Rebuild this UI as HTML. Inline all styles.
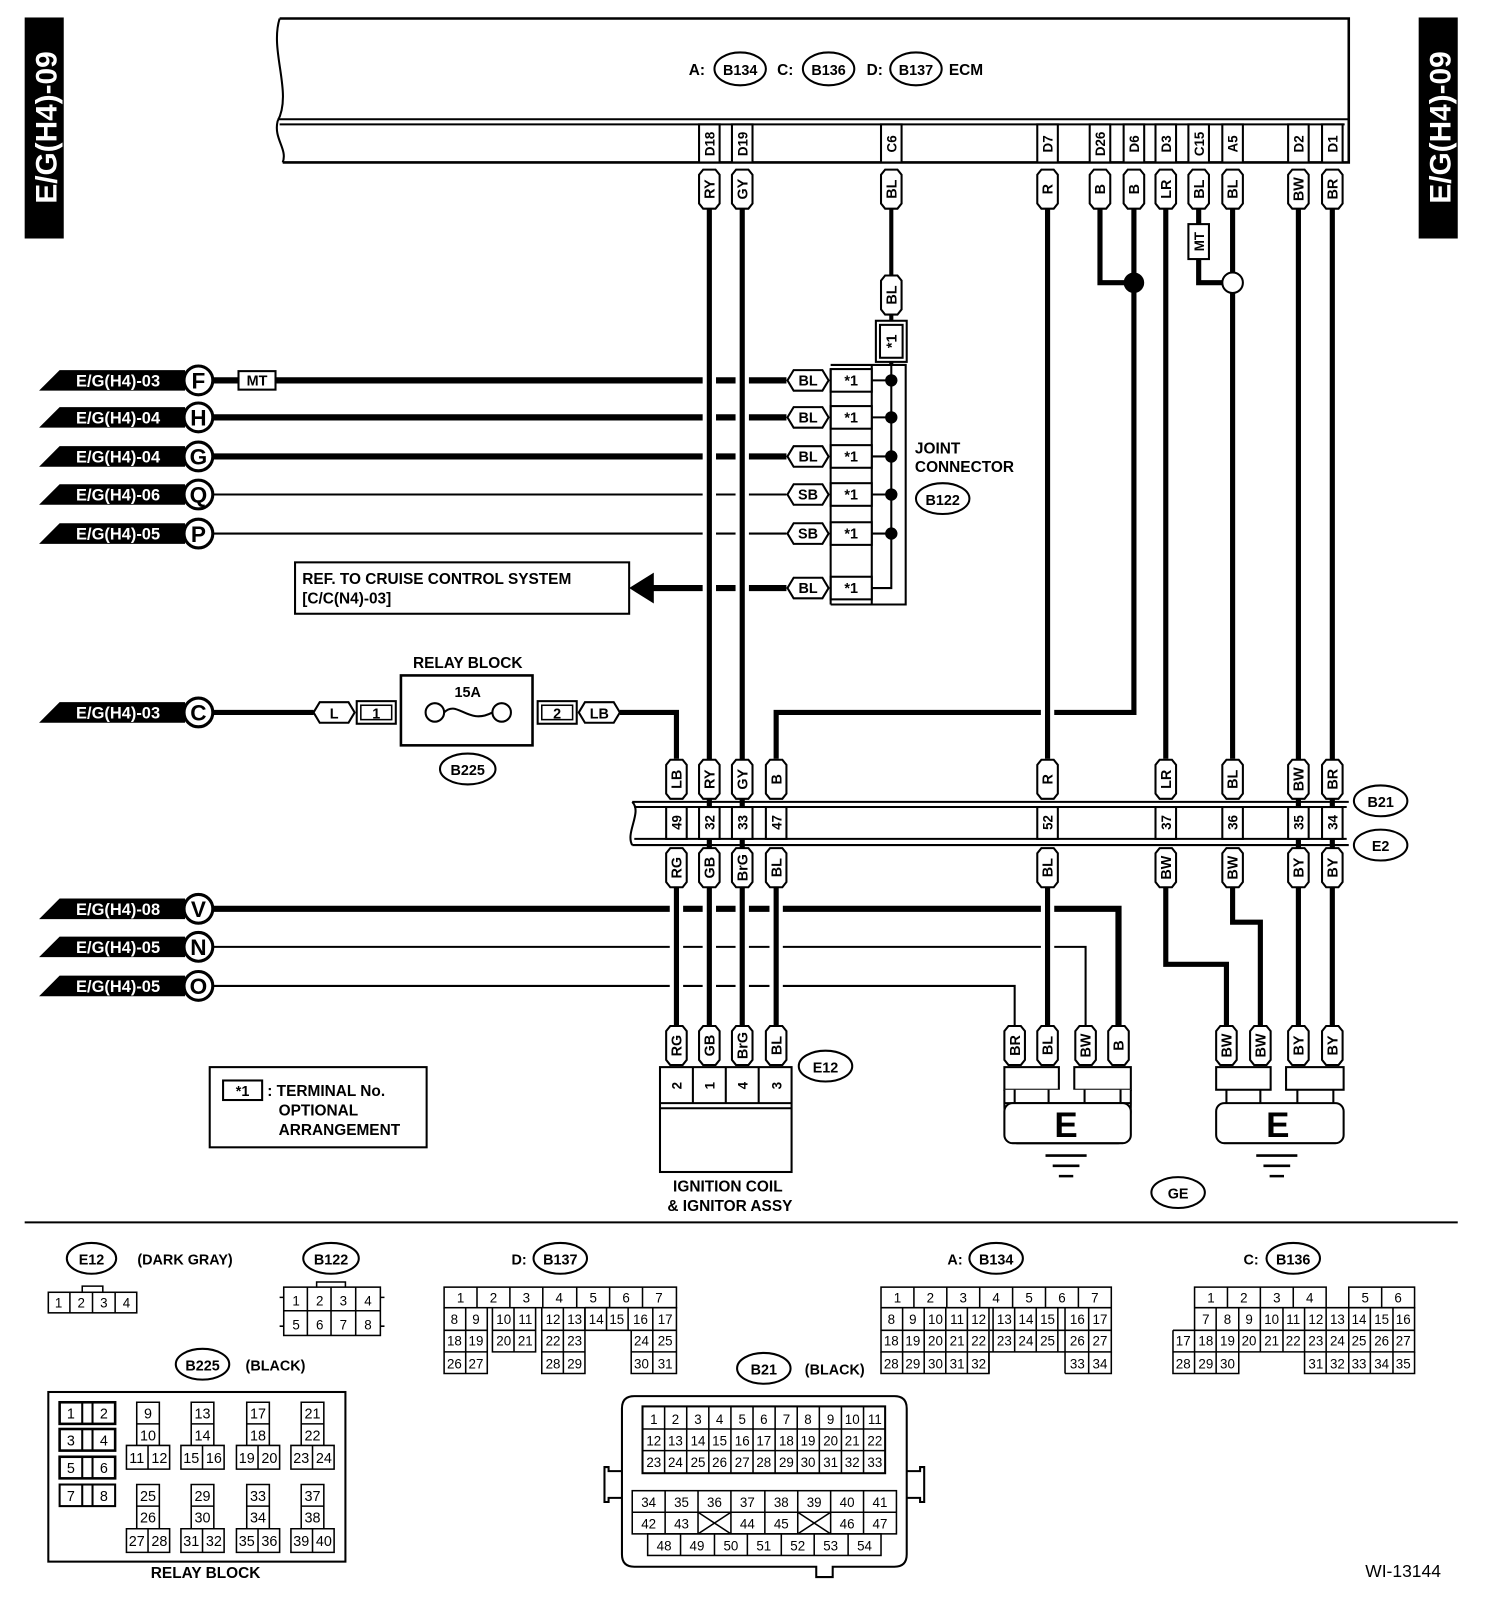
<!DOCTYPE html>
<html><head><meta charset="utf-8"><style>
html,body{margin:0;padding:0;background:#fff}
svg{display:block}
text{font-family:"Liberation Sans",Arial,sans-serif;font-weight:bold;fill:#000}
.n{font-weight:normal}
</style></head><body>
<svg width="1504" height="1612" viewBox="0 0 1463 1568" preserveAspectRatio="none" xmlns="http://www.w3.org/2000/svg">
<defs>
<path id="vp" d="M-10,-14L-6,-19H6L10,-14V14L6,19H-6L-10,14Z" fill="#fff" stroke="#000" stroke-width="2"/>
<path id="hp" d="M-20,0L-14,-10H14L20,0L14,10H-14Z" fill="#fff" stroke="#000" stroke-width="2"/>
<path id="tag" d="M0,10L20,-10H142V10Z" fill="#000"/>
</defs>
<rect width="1463" height="1568" fill="#fff"/>
<!-- side tabs -->
<rect x="24" y="17" width="38" height="215" fill="#000"/>
<text transform="translate(55,124) rotate(-90)" text-anchor="middle" font-size="29" style="fill:#fff">E/G(H4)-09</text>
<rect x="1380" y="17" width="38" height="215" fill="#000"/>
<text transform="translate(1411,124) rotate(-90)" text-anchor="middle" font-size="29" style="fill:#fff">E/G(H4)-09</text>

<!-- ECM -->
<g fill="none" stroke="#000">
<path d="M272,18H1312V158H275" stroke-width="2.5"/>
<path d="M272,18C262,50 285,90 270,118 C266,135 280,145 275,158" stroke-width="2"/>
<path d="M270,116H1312M272,121H1308" stroke-width="2"/>
</g>
<text x="670" y="73" font-size="15">A:</text>
<ellipse cx="720" cy="67" rx="25" ry="16" fill="none" stroke="#000" stroke-width="2"/>
<text x="720" y="73" font-size="14" text-anchor="middle">B134</text>
<text x="756" y="73" font-size="15">C:</text>
<ellipse cx="806" cy="67" rx="25" ry="16" fill="none" stroke="#000" stroke-width="2"/>
<text x="806" y="73" font-size="14" text-anchor="middle">B136</text>
<text x="843" y="73" font-size="15">D:</text>
<ellipse cx="891" cy="67" rx="25" ry="16" fill="none" stroke="#000" stroke-width="2"/>
<text x="891" y="73" font-size="14" text-anchor="middle">B137</text>
<text x="923" y="73" font-size="15">ECM</text>

<!-- ECM pin boxes -->
<g fill="#fff" stroke="#000" stroke-width="2">
<rect x="680" y="121" width="20" height="37"/><rect x="712" y="121" width="20" height="37"/>
<rect x="857" y="121" width="20" height="37"/><rect x="1009" y="121" width="20" height="37"/>
<rect x="1060" y="121" width="20" height="37"/><rect x="1093" y="121" width="20" height="37"/>
<rect x="1124" y="121" width="20" height="37"/><rect x="1156" y="121" width="20" height="37"/>
<rect x="1189" y="121" width="20" height="37"/><rect x="1253" y="121" width="20" height="37"/>
<rect x="1286" y="121" width="20" height="37"/>
</g>
<g font-size="13" text-anchor="middle">
<text transform="translate(695,140) rotate(-90)">D18</text>
<text transform="translate(727,140) rotate(-90)">D19</text>
<text transform="translate(872,140) rotate(-90)">C6</text>
<text transform="translate(1024,140) rotate(-90)">D7</text>
<text transform="translate(1075,140) rotate(-90)">D26</text>
<text transform="translate(1108,140) rotate(-90)">D6</text>
<text transform="translate(1139,140) rotate(-90)">D3</text>
<text transform="translate(1171,140) rotate(-90)">C15</text>
<text transform="translate(1204,140) rotate(-90)">A5</text>
<text transform="translate(1268,140) rotate(-90)">D2</text>
<text transform="translate(1301,140) rotate(-90)">D1</text>
</g>

<!-- horizontal wires (left) -->
<g stroke="#000" fill="none">
<path d="M207,370H765M207,406H765M207,444H765" stroke-width="6"/>
<path d="M207,481H765M207,519H765" stroke-width="2"/>
<path d="M632,572H765" stroke-width="6"/>
<path d="M207,693H305M603,693H658V738" stroke-width="5"/>
<path d="M1103,203V693H755V738" stroke-width="5"/>
<path d="M207,884H1088V998" stroke-width="6"/>
<path d="M207,921H1056V998M207,959H987V998" stroke-width="2"/>
</g>
<!-- white halos for crossings -->
<g stroke="#fff" stroke-width="13" fill="none">
<path d="M690,210V735M722,210V735M1019,210V735"/>
<path d="M658,866V995M690,866V995M722,866V995M755,866V995M1019,866V995"/>
</g>
<!-- vertical wires -->
<g stroke="#000" stroke-width="5" fill="none">
<path d="M690,203V998M722,203V998M1019,203V738M1019,863V998"/>
<path d="M1070,203V275H1103"/>
<path d="M1134,203V738M1134,863V938H1193V998"/>
<path d="M1166,203V275H1190"/>
<path d="M1199,203V738M1199,863V897H1226V998"/>
<path d="M1263,203V998M1296,203V998"/>
<path d="M658,863V998M755,863V998"/>
<path d="M867,203V355" stroke-width="4"/>
</g>
<circle cx="1103" cy="275" r="10" fill="#000"/>
<circle cx="1199" cy="275" r="10" fill="#fff" stroke="#000" stroke-width="2"/>
<rect x="1156" y="218" width="20" height="34" fill="#fff" stroke="#000" stroke-width="2"/>
<text transform="translate(1171,235) rotate(-90)" text-anchor="middle" font-size="13">MT</text>

<!-- ECM wire pills -->
<g>
<use href="#vp" x="690" y="184"/><use href="#vp" x="722" y="184"/><use href="#vp" x="867" y="184"/>
<use href="#vp" x="1019" y="184"/><use href="#vp" x="1070" y="184"/><use href="#vp" x="1103" y="184"/>
<use href="#vp" x="1134" y="184"/><use href="#vp" x="1166" y="184"/><use href="#vp" x="1199" y="184"/>
<use href="#vp" x="1263" y="184"/><use href="#vp" x="1296" y="184"/>
<use href="#vp" x="867" y="287"/>
</g>
<g font-size="14" text-anchor="middle">
<text transform="translate(695,184) rotate(-90)">RY</text>
<text transform="translate(727,184) rotate(-90)">GY</text>
<text transform="translate(872,184) rotate(-90)">BL</text>
<text transform="translate(1024,184) rotate(-90)">R</text>
<text transform="translate(1075,184) rotate(-90)">B</text>
<text transform="translate(1108,184) rotate(-90)">B</text>
<text transform="translate(1139,184) rotate(-90)">LR</text>
<text transform="translate(1171,184) rotate(-90)">BL</text>
<text transform="translate(1204,184) rotate(-90)">BL</text>
<text transform="translate(1268,184) rotate(-90)">BW</text>
<text transform="translate(1301,184) rotate(-90)">BR</text>
<text transform="translate(872,287) rotate(-90)">BL</text>
</g>
<rect x="852" y="312" width="30" height="40" fill="#fff" stroke="#000" stroke-width="2"/>
<rect x="856" y="316" width="22" height="32" fill="none" stroke="#000" stroke-width="2"/>
<text transform="translate(872,332) rotate(-90)" text-anchor="middle" font-size="14">*1</text>

<!-- Joint connector -->
<g fill="none" stroke="#000" stroke-width="2">
<path d="M808,355H881V588H808"/>
<path d="M848,355V588"/>
<rect x="808" y="359" width="40" height="22" fill="#fff"/>
<rect x="808" y="395" width="40" height="22" fill="#fff"/>
<rect x="808" y="433" width="40" height="22" fill="#fff"/>
<rect x="808" y="470" width="40" height="22" fill="#fff"/>
<rect x="808" y="508" width="40" height="22" fill="#fff"/>
<rect x="808" y="561" width="40" height="22" fill="#fff"/>
<path d="M808,359V588"/>
<path d="M867,355V572H848M848,370H867M848,406H867M848,444H867M848,481H867M848,519H867"/>
</g>
<g fill="#000"><circle cx="867" cy="370" r="6"/><circle cx="867" cy="406" r="6"/><circle cx="867" cy="444" r="6"/><circle cx="867" cy="481" r="6"/><circle cx="867" cy="519" r="6"/></g>
<g font-size="14" text-anchor="middle">
<text x="828" y="375">*1</text><text x="828" y="411">*1</text><text x="828" y="449">*1</text>
<text x="828" y="486">*1</text><text x="828" y="524">*1</text><text x="828" y="577">*1</text>
</g>
<use href="#hp" x="786" y="370"/><use href="#hp" x="786" y="406"/><use href="#hp" x="786" y="444"/>
<use href="#hp" x="786" y="481"/><use href="#hp" x="786" y="519"/><use href="#hp" x="786" y="572"/>
<g font-size="14" text-anchor="middle">
<text x="786" y="375">BL</text><text x="786" y="411">BL</text><text x="786" y="449">BL</text>
<text x="786" y="486">SB</text><text x="786" y="524">SB</text><text x="786" y="577">BL</text>
</g>
<text x="890" y="441" font-size="15">JOINT</text>
<text x="890" y="459" font-size="15">CONNECTOR</text>
<ellipse cx="917" cy="485" rx="26" ry="15" fill="none" stroke="#000" stroke-width="2"/>
<text x="917" y="491" font-size="14" text-anchor="middle">B122</text>

<!-- REF box -->
<rect x="287" y="547" width="325" height="50" fill="#fff" stroke="#000" stroke-width="2"/>
<text x="294" y="568" font-size="15">REF. TO CRUISE CONTROL SYSTEM</text>
<text x="294" y="587" font-size="15">[C/C(N4)-03]</text>
<path d="M612,572L636,557V587Z" fill="#000"/>

<!-- Left tags -->
<g>
<use href="#tag" x="38" y="370"/><use href="#tag" x="38" y="406"/><use href="#tag" x="38" y="444"/>
<use href="#tag" x="38" y="481"/><use href="#tag" x="38" y="519"/><use href="#tag" x="38" y="693"/>
<use href="#tag" x="38" y="884"/><use href="#tag" x="38" y="921"/><use href="#tag" x="38" y="959"/>
</g>
<g font-size="16" style="fill:#fff" class="n">
<text x="74" y="376" style="fill:#fff">E/G(H4)-03</text><text x="74" y="412" style="fill:#fff">E/G(H4)-04</text>
<text x="74" y="450" style="fill:#fff">E/G(H4)-04</text><text x="74" y="487" style="fill:#fff">E/G(H4)-06</text>
<text x="74" y="525" style="fill:#fff">E/G(H4)-05</text><text x="74" y="699" style="fill:#fff">E/G(H4)-03</text>
<text x="74" y="890" style="fill:#fff">E/G(H4)-08</text><text x="74" y="927" style="fill:#fff">E/G(H4)-05</text>
<text x="74" y="965" style="fill:#fff">E/G(H4)-05</text>
</g>
<g fill="#fff" stroke="#000" stroke-width="3">
<circle cx="193" cy="370" r="14"/><circle cx="193" cy="406" r="14"/><circle cx="193" cy="444" r="14"/>
<circle cx="193" cy="481" r="14"/><circle cx="193" cy="519" r="14"/><circle cx="193" cy="693" r="14"/>
<circle cx="193" cy="884" r="14"/><circle cx="193" cy="921" r="14"/><circle cx="193" cy="959" r="14"/>
</g>
<g font-size="22" text-anchor="middle">
<text x="193" y="378">F</text><text x="193" y="414">H</text><text x="193" y="452">G</text>
<text x="193" y="489">Q</text><text x="193" y="527">P</text><text x="193" y="701">C</text>
<text x="193" y="892">V</text><text x="193" y="929">N</text><text x="193" y="967">O</text>
</g>
<rect x="232" y="361" width="36" height="18" fill="#fff" stroke="#000" stroke-width="2"/>
<text x="250" y="375" font-size="14" text-anchor="middle">MT</text>

<!-- Relay -->
<use href="#hp" x="325" y="693"/>
<text x="325" y="699" font-size="14" text-anchor="middle">L</text>
<rect x="347" y="682" width="38" height="22" fill="#fff" stroke="#000" stroke-width="2"/>
<rect x="351" y="686" width="30" height="14" fill="none" stroke="#000" stroke-width="1.5"/>
<text x="366" y="699" font-size="14" text-anchor="middle">1</text>
<rect x="390" y="657" width="128" height="68" fill="#fff" stroke="#000" stroke-width="2.5"/>
<text x="455" y="678" font-size="14" text-anchor="middle">15A</text>
<circle cx="423" cy="693" r="9" fill="#fff" stroke="#000" stroke-width="2"/>
<circle cx="488" cy="693" r="9" fill="#fff" stroke="#000" stroke-width="2"/>
<path d="M432,693C445,680 455,706 479,693" fill="none" stroke="#000" stroke-width="2"/>
<rect x="523" y="682" width="38" height="22" fill="#fff" stroke="#000" stroke-width="2"/>
<rect x="527" y="686" width="30" height="14" fill="none" stroke="#000" stroke-width="1.5"/>
<text x="542" y="699" font-size="14" text-anchor="middle">2</text>
<use href="#hp" x="583" y="693"/>
<text x="583" y="699" font-size="14" text-anchor="middle">LB</text>
<text x="455" y="650" font-size="15" text-anchor="middle">RELAY BLOCK</text>
<ellipse cx="455" cy="748" rx="27" ry="15" fill="none" stroke="#000" stroke-width="2"/>
<text x="455" y="754" font-size="14" text-anchor="middle">B225</text>

<!-- B21/E2 strip -->
<g fill="none" stroke="#000" stroke-width="2">
<path d="M615,780H1312M617,785H1310M617,816H1310M615,822H1312"/>
<path d="M615,780C625,790 608,810 615,822" />
</g>
<g fill="#fff" stroke="#000" stroke-width="2">
<rect x="648" y="785" width="20" height="31"/><rect x="680" y="785" width="20" height="31"/>
<rect x="712" y="785" width="20" height="31"/><rect x="745" y="785" width="20" height="31"/>
<rect x="1009" y="785" width="20" height="31"/><rect x="1124" y="785" width="20" height="31"/>
<rect x="1189" y="785" width="20" height="31"/><rect x="1253" y="785" width="20" height="31"/>
<rect x="1286" y="785" width="20" height="31"/>
</g>
<g font-size="13" text-anchor="middle">
<text transform="translate(663,800) rotate(-90)">49</text><text transform="translate(695,800) rotate(-90)">32</text>
<text transform="translate(727,800) rotate(-90)">33</text><text transform="translate(760,800) rotate(-90)">47</text>
<text transform="translate(1024,800) rotate(-90)">52</text><text transform="translate(1139,800) rotate(-90)">37</text>
<text transform="translate(1204,800) rotate(-90)">36</text><text transform="translate(1268,800) rotate(-90)">35</text>
<text transform="translate(1301,800) rotate(-90)">34</text>
</g>
<ellipse cx="1343" cy="779" rx="26" ry="15" fill="#fff" stroke="#000" stroke-width="2"/>
<text x="1343" y="785" font-size="14" text-anchor="middle">B21</text>
<ellipse cx="1343" cy="822" rx="26" ry="15" fill="#fff" stroke="#000" stroke-width="2"/>
<text x="1343" y="828" font-size="14" text-anchor="middle">E2</text>

<!-- strip pills -->
<g>
<use href="#vp" x="658" y="758"/><use href="#vp" x="690" y="758"/><use href="#vp" x="722" y="758"/><use href="#vp" x="755" y="758"/>
<use href="#vp" x="1019" y="758"/><use href="#vp" x="1134" y="758"/><use href="#vp" x="1199" y="758"/><use href="#vp" x="1263" y="758"/><use href="#vp" x="1296" y="758"/>
<use href="#vp" x="658" y="844"/><use href="#vp" x="690" y="844"/><use href="#vp" x="722" y="844"/><use href="#vp" x="755" y="844"/>
<use href="#vp" x="1019" y="844"/><use href="#vp" x="1134" y="844"/><use href="#vp" x="1199" y="844"/><use href="#vp" x="1263" y="844"/><use href="#vp" x="1296" y="844"/>
<use href="#vp" x="658" y="1017"/><use href="#vp" x="690" y="1017"/><use href="#vp" x="722" y="1017"/><use href="#vp" x="755" y="1017"/>
<use href="#vp" x="987" y="1017"/><use href="#vp" x="1019" y="1017"/><use href="#vp" x="1056" y="1017"/><use href="#vp" x="1088" y="1017"/>
<use href="#vp" x="1193" y="1017"/><use href="#vp" x="1226" y="1017"/><use href="#vp" x="1263" y="1017"/><use href="#vp" x="1296" y="1017"/>
</g>
<g font-size="14" text-anchor="middle">
<text transform="translate(663,758) rotate(-90)">LB</text><text transform="translate(695,758) rotate(-90)">RY</text>
<text transform="translate(727,758) rotate(-90)">GY</text><text transform="translate(760,758) rotate(-90)">B</text>
<text transform="translate(1024,758) rotate(-90)">R</text><text transform="translate(1139,758) rotate(-90)">LR</text>
<text transform="translate(1204,758) rotate(-90)">BL</text><text transform="translate(1268,758) rotate(-90)">BW</text>
<text transform="translate(1301,758) rotate(-90)">BR</text>
<text transform="translate(663,844) rotate(-90)">RG</text><text transform="translate(695,844) rotate(-90)">GB</text>
<text transform="translate(727,844) rotate(-90)">BrG</text><text transform="translate(760,844) rotate(-90)">BL</text>
<text transform="translate(1024,844) rotate(-90)">BL</text><text transform="translate(1139,844) rotate(-90)">BW</text>
<text transform="translate(1204,844) rotate(-90)">BW</text><text transform="translate(1268,844) rotate(-90)">BY</text>
<text transform="translate(1301,844) rotate(-90)">BY</text>
<text transform="translate(663,1017) rotate(-90)">RG</text><text transform="translate(695,1017) rotate(-90)">GB</text>
<text transform="translate(727,1017) rotate(-90)">BrG</text><text transform="translate(760,1017) rotate(-90)">BL</text>
<text transform="translate(992,1017) rotate(-90)">BR</text><text transform="translate(1024,1017) rotate(-90)">BL</text>
<text transform="translate(1061,1017) rotate(-90)">BW</text><text transform="translate(1093,1017) rotate(-90)">B</text>
<text transform="translate(1198,1017) rotate(-90)">BW</text><text transform="translate(1231,1017) rotate(-90)">BW</text>
<text transform="translate(1268,1017) rotate(-90)">BY</text><text transform="translate(1301,1017) rotate(-90)">BY</text>
</g>

<!-- E12 ignition -->
<g fill="none" stroke="#000" stroke-width="2">
<rect x="642" y="1038" width="128" height="102"/>
<path d="M642,1073H770M642,1078H770"/>
<path d="M674,1038V1073M706,1038V1073M738,1038V1073"/>
</g>
<g font-size="13" text-anchor="middle">
<text transform="translate(663,1056) rotate(-90)">2</text><text transform="translate(695,1056) rotate(-90)">1</text>
<text transform="translate(727,1056) rotate(-90)">4</text><text transform="translate(760,1056) rotate(-90)">3</text>
</g>
<ellipse cx="803" cy="1037" rx="26" ry="15" fill="none" stroke="#000" stroke-width="2"/>
<text x="803" y="1043" font-size="14" text-anchor="middle">E12</text>
<text x="708" y="1159" font-size="15" text-anchor="middle">IGNITION COIL</text>
<text x="710" y="1178" font-size="15" text-anchor="middle">&amp; IGNITOR ASSY</text>

<!-- legend -->
<rect x="204" y="1038" width="211" height="78" fill="none" stroke="#000" stroke-width="2"/>
<rect x="217" y="1051" width="38" height="19" fill="none" stroke="#000" stroke-width="2"/>
<text x="236" y="1066" font-size="14" text-anchor="middle">*1</text>
<text x="260" y="1066" font-size="15">: TERMINAL No.</text>
<text x="271" y="1085" font-size="15">OPTIONAL</text>
<text x="271" y="1104" font-size="15">ARRANGEMENT</text>

<!-- grounds -->
<g fill="#fff" stroke="#000" stroke-width="2">
<rect x="977" y="1038" width="53" height="22"/><rect x="1045" y="1038" width="55" height="22"/>
<path d="M977,1060V1073H1100V1060M977,1073Q977,1112 990,1112H1088Q1100,1112 1100,1073"/>
<rect x="977" y="1073" width="123" height="39" rx="8"/>
<rect x="1183" y="1038" width="53" height="22"/><rect x="1251" y="1038" width="56" height="22"/>
<rect x="1183" y="1073" width="124" height="39" rx="8"/>
<path d="M987,1060V1073M1020,1060V1073M1055,1060V1073M1090,1060V1073M1193,1060V1073M1226,1060V1073M1262,1060V1073M1297,1060V1073" fill="none"/>
</g>
<text x="1037" y="1106" font-size="34" text-anchor="middle">E</text>
<text x="1243" y="1106" font-size="34" text-anchor="middle">E</text>
<g stroke="#000" stroke-width="2.5">
<path d="M1017,1124H1057M1024,1134H1050M1030,1144H1044"/>
<path d="M1222,1124H1262M1229,1134H1255M1235,1144H1249"/>
</g>
<ellipse cx="1146" cy="1160" rx="26" ry="15" fill="none" stroke="#000" stroke-width="2"/>
<text x="1146" y="1166" font-size="14" text-anchor="middle">GE</text>

<!-- separator -->
<path d="M24,1189H1418" stroke="#000" stroke-width="2"/>

<!-- bottom connector views -->
<g font-size="14" text-anchor="middle">
<ellipse cx="89" cy="1224" rx="24" ry="15" fill="none" stroke="#000" stroke-width="2"/>
<text x="89" y="1230">E12</text>
<text x="180" y="1230">(DARK GRAY)</text>
<ellipse cx="322" cy="1224" rx="27" ry="15" fill="none" stroke="#000" stroke-width="2"/>
<text x="322" y="1230">B122</text>
<text x="505" y="1230">D:</text>
<ellipse cx="545" cy="1224" rx="26" ry="15" fill="none" stroke="#000" stroke-width="2"/>
<text x="545" y="1230">B137</text>
<text x="929" y="1230">A:</text>
<ellipse cx="969" cy="1224" rx="26" ry="15" fill="none" stroke="#000" stroke-width="2"/>
<text x="969" y="1230">B134</text>
<text x="1217" y="1230">C:</text>
<ellipse cx="1258" cy="1224" rx="26" ry="15" fill="none" stroke="#000" stroke-width="2"/>
<text x="1258" y="1230">B136</text>
<ellipse cx="197" cy="1327" rx="26" ry="15" fill="none" stroke="#000" stroke-width="2"/>
<text x="197" y="1333">B225</text>
<text x="268" y="1333">(BLACK)</text>
<ellipse cx="743" cy="1331" rx="26" ry="15" fill="none" stroke="#000" stroke-width="2"/>
<text x="743" y="1337">B21</text>
<text x="812" y="1337">(BLACK)</text>
</g>

<g fill="none" stroke="#000" stroke-width="1.5">
<!-- E12 -->
<path d="M80,1257V1251H100V1257"/>
<rect x="47" y="1257" width="86" height="20"/><path d="M68,1257V1277M90,1257V1277M112,1257V1277"/>
<!-- B122 -->
<rect x="276" y="1252" width="94" height="47"/><path d="M276,1275H370M299,1252V1299M322,1252V1299M346,1252V1299"/>
<path d="M308,1252V1247H336V1252M272,1262H276M272,1290H276M370,1262H374M370,1290H374"/>
</g>
<g font-size="13" text-anchor="middle" class="n">
<text x="57" y="1272" class="n">1</text><text x="79" y="1272" class="n">2</text><text x="101" y="1272" class="n">3</text><text x="123" y="1272" class="n">4</text>
<text x="288" y="1270" class="n">1</text><text x="311" y="1270" class="n">2</text><text x="334" y="1270" class="n">3</text><text x="358" y="1270" class="n">4</text>
<text x="288" y="1293" class="n">5</text><text x="311" y="1293" class="n">6</text><text x="334" y="1293" class="n">7</text><text x="358" y="1293" class="n">8</text>
</g>

<!-- D:B137 grid -->
<g fill="none" stroke="#000" stroke-width="1.5">
<rect x="432" y="1252" width="226" height="20"/>
<path d="M464,1252V1272M496,1252V1272M528,1252V1272M561,1252V1272M593,1252V1272M625,1252V1272"/>
<path d="M432,1272V1336H474V1272M432,1294H474M432,1315H474M453,1272V1336"/>
<path d="M479,1272V1315H521V1272M479,1294H521M500,1272V1315"/>
<path d="M527,1272V1336H569V1272M527,1294H569M527,1315H569M548,1272V1336"/>
<path d="M569,1272H658V1336H614V1294M569,1294V1272M590,1272V1294M611,1272V1294M635,1272V1336M614,1294H658M614,1315H658"/>
<path d="M569,1294H614"/>
</g>
<g font-size="13" text-anchor="middle" class="n">
<text x="448" y="1267" class="n">1</text><text x="480" y="1267" class="n">2</text><text x="512" y="1267" class="n">3</text><text x="544" y="1267" class="n">4</text><text x="577" y="1267" class="n">5</text><text x="609" y="1267" class="n">6</text><text x="641" y="1267" class="n">7</text>
<text x="442" y="1288" class="n">8</text><text x="463" y="1288" class="n">9</text><text x="490" y="1288" class="n">10</text><text x="511" y="1288" class="n">11</text><text x="538" y="1288" class="n">12</text><text x="559" y="1288" class="n">13</text><text x="580" y="1288" class="n">14</text><text x="600" y="1288" class="n">15</text><text x="623" y="1288" class="n">16</text><text x="647" y="1288" class="n">17</text>
<text x="442" y="1309" class="n">18</text><text x="463" y="1309" class="n">19</text><text x="490" y="1309" class="n">20</text><text x="511" y="1309" class="n">21</text><text x="538" y="1309" class="n">22</text><text x="559" y="1309" class="n">23</text><text x="624" y="1309" class="n">24</text><text x="647" y="1309" class="n">25</text>
<text x="442" y="1331" class="n">26</text><text x="463" y="1331" class="n">27</text><text x="538" y="1331" class="n">28</text><text x="559" y="1331" class="n">29</text><text x="624" y="1331" class="n">30</text><text x="647" y="1331" class="n">31</text>
</g>

<!-- A:B134 grid -->
<g fill="none" stroke="#000" stroke-width="1.5">
<rect x="857" y="1252" width="224" height="63"/>
<path d="M889,1252V1272M921,1252V1272M953,1252V1272M985,1252V1272M1017,1252V1272M1049,1252V1272"/>
<path d="M857,1272H1081M857,1294H1081"/>
<path d="M878,1272V1336M899,1272V1336M920,1272V1336M941,1272V1336M962,1272V1336M966,1272V1315M987,1272V1315M1008,1272V1315M1029,1272V1315M1036,1272V1336M1059,1272V1336"/>
<path d="M857,1315V1336H962V1315M1036,1336H1081V1315"/>
</g>
<g font-size="13" text-anchor="middle" class="n">
<text x="873" y="1267" class="n">1</text><text x="905" y="1267" class="n">2</text><text x="937" y="1267" class="n">3</text><text x="969" y="1267" class="n">4</text><text x="1001" y="1267" class="n">5</text><text x="1033" y="1267" class="n">6</text><text x="1065" y="1267" class="n">7</text>
<text x="867" y="1288" class="n">8</text><text x="888" y="1288" class="n">9</text><text x="910" y="1288" class="n">10</text><text x="931" y="1288" class="n">11</text><text x="952" y="1288" class="n">12</text><text x="977" y="1288" class="n">13</text><text x="998" y="1288" class="n">14</text><text x="1019" y="1288" class="n">15</text><text x="1048" y="1288" class="n">16</text><text x="1070" y="1288" class="n">17</text>
<text x="867" y="1309" class="n">18</text><text x="888" y="1309" class="n">19</text><text x="910" y="1309" class="n">20</text><text x="931" y="1309" class="n">21</text><text x="952" y="1309" class="n">22</text><text x="977" y="1309" class="n">23</text><text x="998" y="1309" class="n">24</text><text x="1019" y="1309" class="n">25</text><text x="1048" y="1309" class="n">26</text><text x="1070" y="1309" class="n">27</text>
<text x="867" y="1331" class="n">28</text><text x="888" y="1331" class="n">29</text><text x="910" y="1331" class="n">30</text><text x="931" y="1331" class="n">31</text><text x="952" y="1331" class="n">32</text><text x="1048" y="1331" class="n">33</text><text x="1070" y="1331" class="n">34</text>
</g>

<!-- C:B136 grid -->
<g fill="none" stroke="#000" stroke-width="1.5">
<path d="M1162,1294V1252H1290V1272M1194,1252V1272M1226,1252V1272M1258,1252V1272"/>
<rect x="1312" y="1252" width="64" height="20"/><path d="M1344,1252V1272"/>
<path d="M1162,1272H1376V1315H1141V1336H1205V1315M1141,1294H1376M1141,1294V1315"/>
<path d="M1183,1272V1336M1205,1272V1315M1226,1272V1315M1248,1272V1315M1269,1272V1336H1376V1315M1290,1272V1336M1312,1272V1336M1333,1272V1336M1355,1272V1336M1162,1294V1336"/>
</g>
<g font-size="13" text-anchor="middle" class="n">
<text x="1178" y="1267" class="n">1</text><text x="1210" y="1267" class="n">2</text><text x="1242" y="1267" class="n">3</text><text x="1274" y="1267" class="n">4</text><text x="1328" y="1267" class="n">5</text><text x="1360" y="1267" class="n">6</text>
<text x="1173" y="1288" class="n">7</text><text x="1194" y="1288" class="n">8</text><text x="1215" y="1288" class="n">9</text><text x="1237" y="1288" class="n">10</text><text x="1258" y="1288" class="n">11</text><text x="1280" y="1288" class="n">12</text><text x="1301" y="1288" class="n">13</text><text x="1322" y="1288" class="n">14</text><text x="1344" y="1288" class="n">15</text><text x="1365" y="1288" class="n">16</text>
<text x="1151" y="1309" class="n">17</text><text x="1173" y="1309" class="n">18</text><text x="1194" y="1309" class="n">19</text><text x="1215" y="1309" class="n">20</text><text x="1237" y="1309" class="n">21</text><text x="1258" y="1309" class="n">22</text><text x="1280" y="1309" class="n">23</text><text x="1301" y="1309" class="n">24</text><text x="1322" y="1309" class="n">25</text><text x="1344" y="1309" class="n">26</text><text x="1365" y="1309" class="n">27</text>
<text x="1151" y="1331" class="n">28</text><text x="1173" y="1331" class="n">29</text><text x="1194" y="1331" class="n">30</text><text x="1280" y="1331" class="n">31</text><text x="1301" y="1331" class="n">32</text><text x="1322" y="1331" class="n">33</text><text x="1344" y="1331" class="n">34</text><text x="1365" y="1331" class="n">35</text>
</g>

<!-- Relay block B225 -->
<g fill="none" stroke="#000" stroke-width="2">
<rect x="47" y="1354" width="289" height="165"/>
<rect x="58" y="1364" width="54" height="21" stroke-width="2.5"/><path d="M80,1364V1385M90,1364V1385"/>
<rect x="58" y="1390" width="54" height="21" stroke-width="2.5"/><path d="M80,1390V1411M90,1390V1411"/>
<rect x="58" y="1417" width="54" height="21" stroke-width="2.5"/><path d="M80,1417V1438M90,1417V1438"/>
<rect x="58" y="1444" width="54" height="21"/><path d="M80,1444V1465M90,1444V1465"/>
</g>
<g fill="none" stroke="#000" stroke-width="1.5">
<path d="M133,1406V1364H155V1406M133,1385H155M123,1406H165V1429H123ZM144,1406V1429"/>
<path d="M186,1406V1364H208V1406M186,1385H208M176,1406H218V1429H176ZM197,1406V1429"/>
<path d="M240,1406V1364H262V1406M240,1385H262M230,1406H272V1429H230ZM251,1406V1429"/>
<path d="M293,1406V1364H315V1406M293,1385H315M283,1406H325V1429H283ZM304,1406V1429"/>
<path d="M133,1487V1444H155V1487M133,1465H155M123,1487H165V1510H123ZM144,1487V1510"/>
<path d="M186,1487V1444H208V1487M186,1465H208M176,1487H218V1510H176ZM197,1487V1510"/>
<path d="M240,1487V1444H262V1487M240,1465H262M230,1487H272V1510H230ZM251,1487V1510"/>
<path d="M293,1487V1444H315V1487M293,1465H315M283,1487H325V1510H283ZM304,1487V1510"/>
</g>
<g font-size="14" text-anchor="middle" class="n">
<text x="69" y="1380" class="n">1</text><text x="101" y="1380" class="n">2</text>
<text x="69" y="1406" class="n">3</text><text x="101" y="1406" class="n">4</text>
<text x="69" y="1433" class="n">5</text><text x="101" y="1433" class="n">6</text>
<text x="69" y="1460" class="n">7</text><text x="101" y="1460" class="n">8</text>
<text x="144" y="1380" class="n">9</text><text x="144" y="1401" class="n">10</text><text x="133" y="1423" class="n">11</text><text x="155" y="1423" class="n">12</text>
<text x="197" y="1380" class="n">13</text><text x="197" y="1401" class="n">14</text><text x="186" y="1423" class="n">15</text><text x="208" y="1423" class="n">16</text>
<text x="251" y="1380" class="n">17</text><text x="251" y="1401" class="n">18</text><text x="240" y="1423" class="n">19</text><text x="262" y="1423" class="n">20</text>
<text x="304" y="1380" class="n">21</text><text x="304" y="1401" class="n">22</text><text x="293" y="1423" class="n">23</text><text x="315" y="1423" class="n">24</text>
<text x="144" y="1460" class="n">25</text><text x="144" y="1481" class="n">26</text><text x="133" y="1504" class="n">27</text><text x="155" y="1504" class="n">28</text>
<text x="197" y="1460" class="n">29</text><text x="197" y="1481" class="n">30</text><text x="186" y="1504" class="n">31</text><text x="208" y="1504" class="n">32</text>
<text x="251" y="1460" class="n">33</text><text x="251" y="1481" class="n">34</text><text x="240" y="1504" class="n">35</text><text x="262" y="1504" class="n">36</text>
<text x="304" y="1460" class="n">37</text><text x="304" y="1481" class="n">38</text><text x="293" y="1504" class="n">39</text><text x="315" y="1504" class="n">40</text>
</g>
<text x="200" y="1535" font-size="15" text-anchor="middle">RELAY BLOCK</text>

<!-- B21 connector view -->
<g fill="none" stroke="#000" stroke-width="2">
<path d="M617,1358H870Q882,1358 882,1370V1512Q882,1524 870,1524H810V1534H794V1524H617Q605,1524 605,1512V1370Q605,1358 617,1358Z" fill="#fff"/>
<path d="M605,1431H592V1427H588V1461H592V1457H605M882,1431H895V1427H899V1461H895V1457H882"/>
<rect x="625" y="1368" width="236" height="65"/>
</g>
<g fill="none" stroke="#000" stroke-width="1.5">
<path d="M625,1390H861M625,1411H861"/>
<path d="M646.5,1368V1433M668,1368V1433M689.5,1368V1433M711,1368V1433M732.5,1368V1433M754,1368V1433M775.5,1368V1433M797,1368V1433M818.5,1368V1433M840,1368V1433"/>
<rect x="615" y="1450" width="257" height="42"/>
<path d="M615,1471H872M647,1450V1492M679,1450V1492M711,1450V1492M744,1450V1492M776,1450V1492M808,1450V1492M840,1450V1492"/>
<path d="M679,1471L711,1492M711,1471L679,1492M776,1471L808,1492M808,1471L776,1492"/>
<rect x="630" y="1492" width="227" height="21"/>
<path d="M662,1492V1513M695,1492V1513M727,1492V1513M760,1492V1513M792,1492V1513M825,1492V1513"/>
</g>
<g font-size="13" text-anchor="middle" class="n">
<text x="636" y="1385" class="n">1</text><text x="657" y="1385" class="n">2</text><text x="679" y="1385" class="n">3</text><text x="700" y="1385" class="n">4</text><text x="722" y="1385" class="n">5</text><text x="743" y="1385" class="n">6</text><text x="765" y="1385" class="n">7</text><text x="786" y="1385" class="n">8</text><text x="808" y="1385" class="n">9</text><text x="829" y="1385" class="n">10</text><text x="851" y="1385" class="n">11</text>
<text x="636" y="1406" class="n">12</text><text x="657" y="1406" class="n">13</text><text x="679" y="1406" class="n">14</text><text x="700" y="1406" class="n">15</text><text x="722" y="1406" class="n">16</text><text x="743" y="1406" class="n">17</text><text x="765" y="1406" class="n">18</text><text x="786" y="1406" class="n">19</text><text x="808" y="1406" class="n">20</text><text x="829" y="1406" class="n">21</text><text x="851" y="1406" class="n">22</text>
<text x="636" y="1427" class="n">23</text><text x="657" y="1427" class="n">24</text><text x="679" y="1427" class="n">25</text><text x="700" y="1427" class="n">26</text><text x="722" y="1427" class="n">27</text><text x="743" y="1427" class="n">28</text><text x="765" y="1427" class="n">29</text><text x="786" y="1427" class="n">30</text><text x="808" y="1427" class="n">31</text><text x="829" y="1427" class="n">32</text><text x="851" y="1427" class="n">33</text>
<text x="631" y="1466" class="n">34</text><text x="663" y="1466" class="n">35</text><text x="695" y="1466" class="n">36</text><text x="727" y="1466" class="n">37</text><text x="760" y="1466" class="n">38</text><text x="792" y="1466" class="n">39</text><text x="824" y="1466" class="n">40</text><text x="856" y="1466" class="n">41</text>
<text x="631" y="1487" class="n">42</text><text x="663" y="1487" class="n">43</text><text x="727" y="1487" class="n">44</text><text x="760" y="1487" class="n">45</text><text x="824" y="1487" class="n">46</text><text x="856" y="1487" class="n">47</text>
<text x="646" y="1508" class="n">48</text><text x="678" y="1508" class="n">49</text><text x="711" y="1508" class="n">50</text><text x="743" y="1508" class="n">51</text><text x="776" y="1508" class="n">52</text><text x="808" y="1508" class="n">53</text><text x="841" y="1508" class="n">54</text>
</g>

<text x="1328" y="1534" font-size="17" class="n">WI-13144</text>
</svg>
</body></html>
